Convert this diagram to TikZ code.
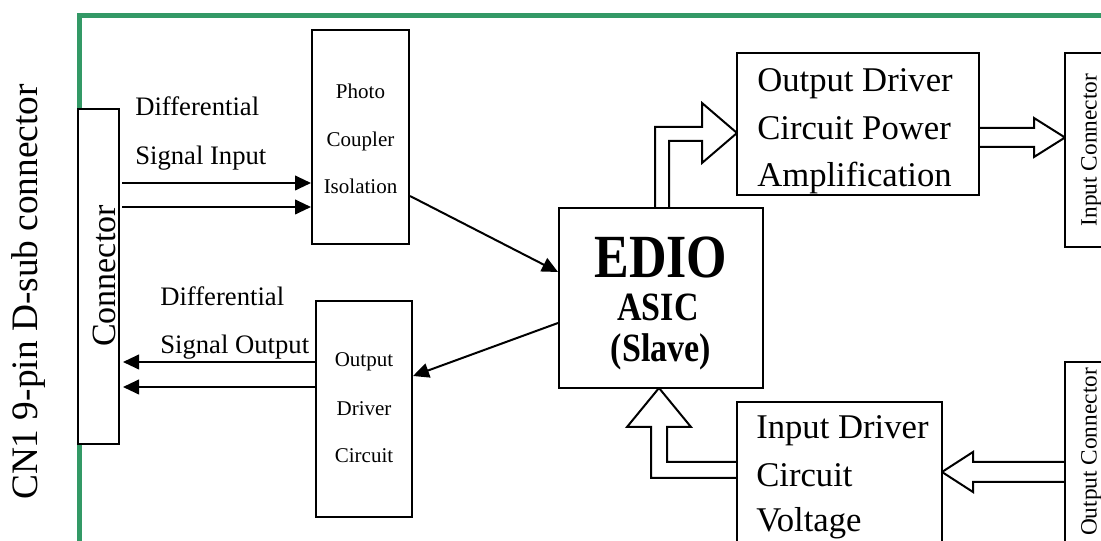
\documentclass[tikz,border=0pt]{standalone}
\usepackage{fontspec}
\setmainfont{Liberation Serif}
\usetikzlibrary{arrows.meta,fit}
\definecolor{boardgreen}{RGB}{51,153,102}
\newcommand{\setfs}[1]{\fontsize{#1pt}{#1pt}\selectfont}

\begin{document}
\begin{tikzpicture}[x=0.75pt,y=-0.75pt,
  box/.style={draw,line width=1.5pt,fill=white,inner sep=0pt},
  sig/.style={line width=1.5pt,-{Triangle[length=12pt,width=11pt]}},
  blockarrow/.style={draw,line width=1.5pt,fill=white,line join=miter},
  txt/.style={inner sep=0pt,anchor=base west},
  ctxt/.style={inner sep=0pt,anchor=base},
  vtxt/.style={inner sep=0pt,anchor=base,rotate=90}]
\useasboundingbox (0,0) rectangle (1101,541);
\clip (0,0) rectangle (1101,541);

% board outline
\draw[boardgreen,line width=3.75pt,line join=miter] (79.5,600) -- (79.5,15.8) -- (1200,15.8);

% wide block arrows (open at the base so the box edges stay intact)
\filldraw[blockarrow] (655,208) -- (655,127) -- (702,127) -- (702,103) -- (737,133)
  -- (702,163) -- (702,141) -- (669,141) -- (669,208);
\filldraw[blockarrow] (737,462) -- (667,462) -- (667,427) -- (691,427) -- (659,388)
  -- (627,427) -- (651,427) -- (651,478) -- (737,478);
\filldraw[blockarrow] (979,128) -- (1034,128) -- (1034,118) -- (1065,137.5)
  -- (1034,157) -- (1034,147) -- (979,147);
\filldraw[blockarrow] (1065,462) -- (973,462) -- (973,452) -- (942,472)
  -- (973,492) -- (973,482) -- (1065,482);

% blocks
\node[box,fit={(78,109) (119,444)}] (conn) {};
\node[box,fit={(312,30) (409,244)}] (photo) {};
\node[box,fit={(316,301) (412,517)}] (outdrv) {};
\node[box,fit={(559,208) (763,388)}] (edio) {};
\node[box,fit={(737,53) (979,195)}] (odpa) {};
\node[box,fit={(737,402) (942,580)}] (indrv) {};
\node[box,fit={(1065,53) (1140,247)}] (inconn) {};
\node[box,fit={(1065,362) (1140,600)}] (outconn) {};

% signal lines
\draw[sig,shorten <=1.5pt] (conn.east |- 0,183) -- (photo.west |- 0,183);
\draw[sig,shorten <=1.5pt] (conn.east |- 0,207) -- (photo.west |- 0,207);
\draw[sig] (photo.east |- 0,196) -- (edio.west |- 0,272);
\draw[sig] (edio.west |- 0,323) -- (outdrv.east |- 0,376);
\draw[sig,shorten >=2.25pt] (outdrv.west |- 0,362) -- (conn.east |- 0,362);
\draw[sig,shorten >=2.25pt] (outdrv.west |- 0,387) -- (conn.east |- 0,387);

% labels
\node[vtxt,font=\setfs{28}] (cn1) at (37,292) {CN1 9-pin D-sub connector};
\node[vtxt,font=\setfs{25.5}] (conntxt) at (115,276) {Connector};
\node[txt,font=\setfs{20}] (dinA) at (135,116) {Differential};
\node[txt,font=\setfs{20}] (dinB) at (135,165) {Signal Input};
\node[txt,font=\setfs{20}] (doutA) at (160,306) {Differential};
\node[txt,font=\setfs{20}] (doutB) at (160,354) {Signal Output};

\node[ctxt,font=\setfs{15.75}] (pcA) at (360.5,99) {Photo};
\node[ctxt,font=\setfs{15.75}] (pcB) at (360.5,147) {Coupler};
\node[ctxt,font=\setfs{15.75}] (pcC) at (360.5,194) {Isolation};

\node[ctxt,font=\setfs{15.75}] (odA) at (364,367) {Output};
\node[ctxt,font=\setfs{15.75}] (odB) at (364,416) {Driver};
\node[ctxt,font=\setfs{15.75}] (odC) at (364,463) {Circuit};

\node[ctxt,font=\bfseries\setfs{39}] (edioA) at (661,278) {\scalebox{1}[1.18]{EDIO}};
\node[ctxt,font=\bfseries\setfs{25.5}] (edioB) at (658,321) {\scalebox{1}[1.18]{ASIC}};
\node[ctxt,font=\bfseries\setfs{25.5}] (edioC) at (661,362) {\scalebox{1}[1.18]{(Slave)}};

\node[txt,font=\setfs{26}] (paA) at (757,92) {Output Driver};
\node[txt,font=\setfs{26}] (paB) at (757,140) {Circuit Power};
\node[txt,font=\setfs{26}] (paC) at (757,187) {Amplification};

\node[txt,font=\setfs{26}] (idA) at (756,439) {Input Driver};
\node[txt,font=\setfs{26}] (idB) at (756,487) {Circuit};
\node[txt,font=\setfs{26}] (idC) at (756,532) {Voltage};

\node[vtxt,font=\setfs{17.5}] (inconntxt) at (1096.5,150) {Input Connector};
\node[vtxt,font=\setfs{17.5}] (outconntxt) at (1096.5,452) {Output Connector};
\end{tikzpicture}
\end{document}
